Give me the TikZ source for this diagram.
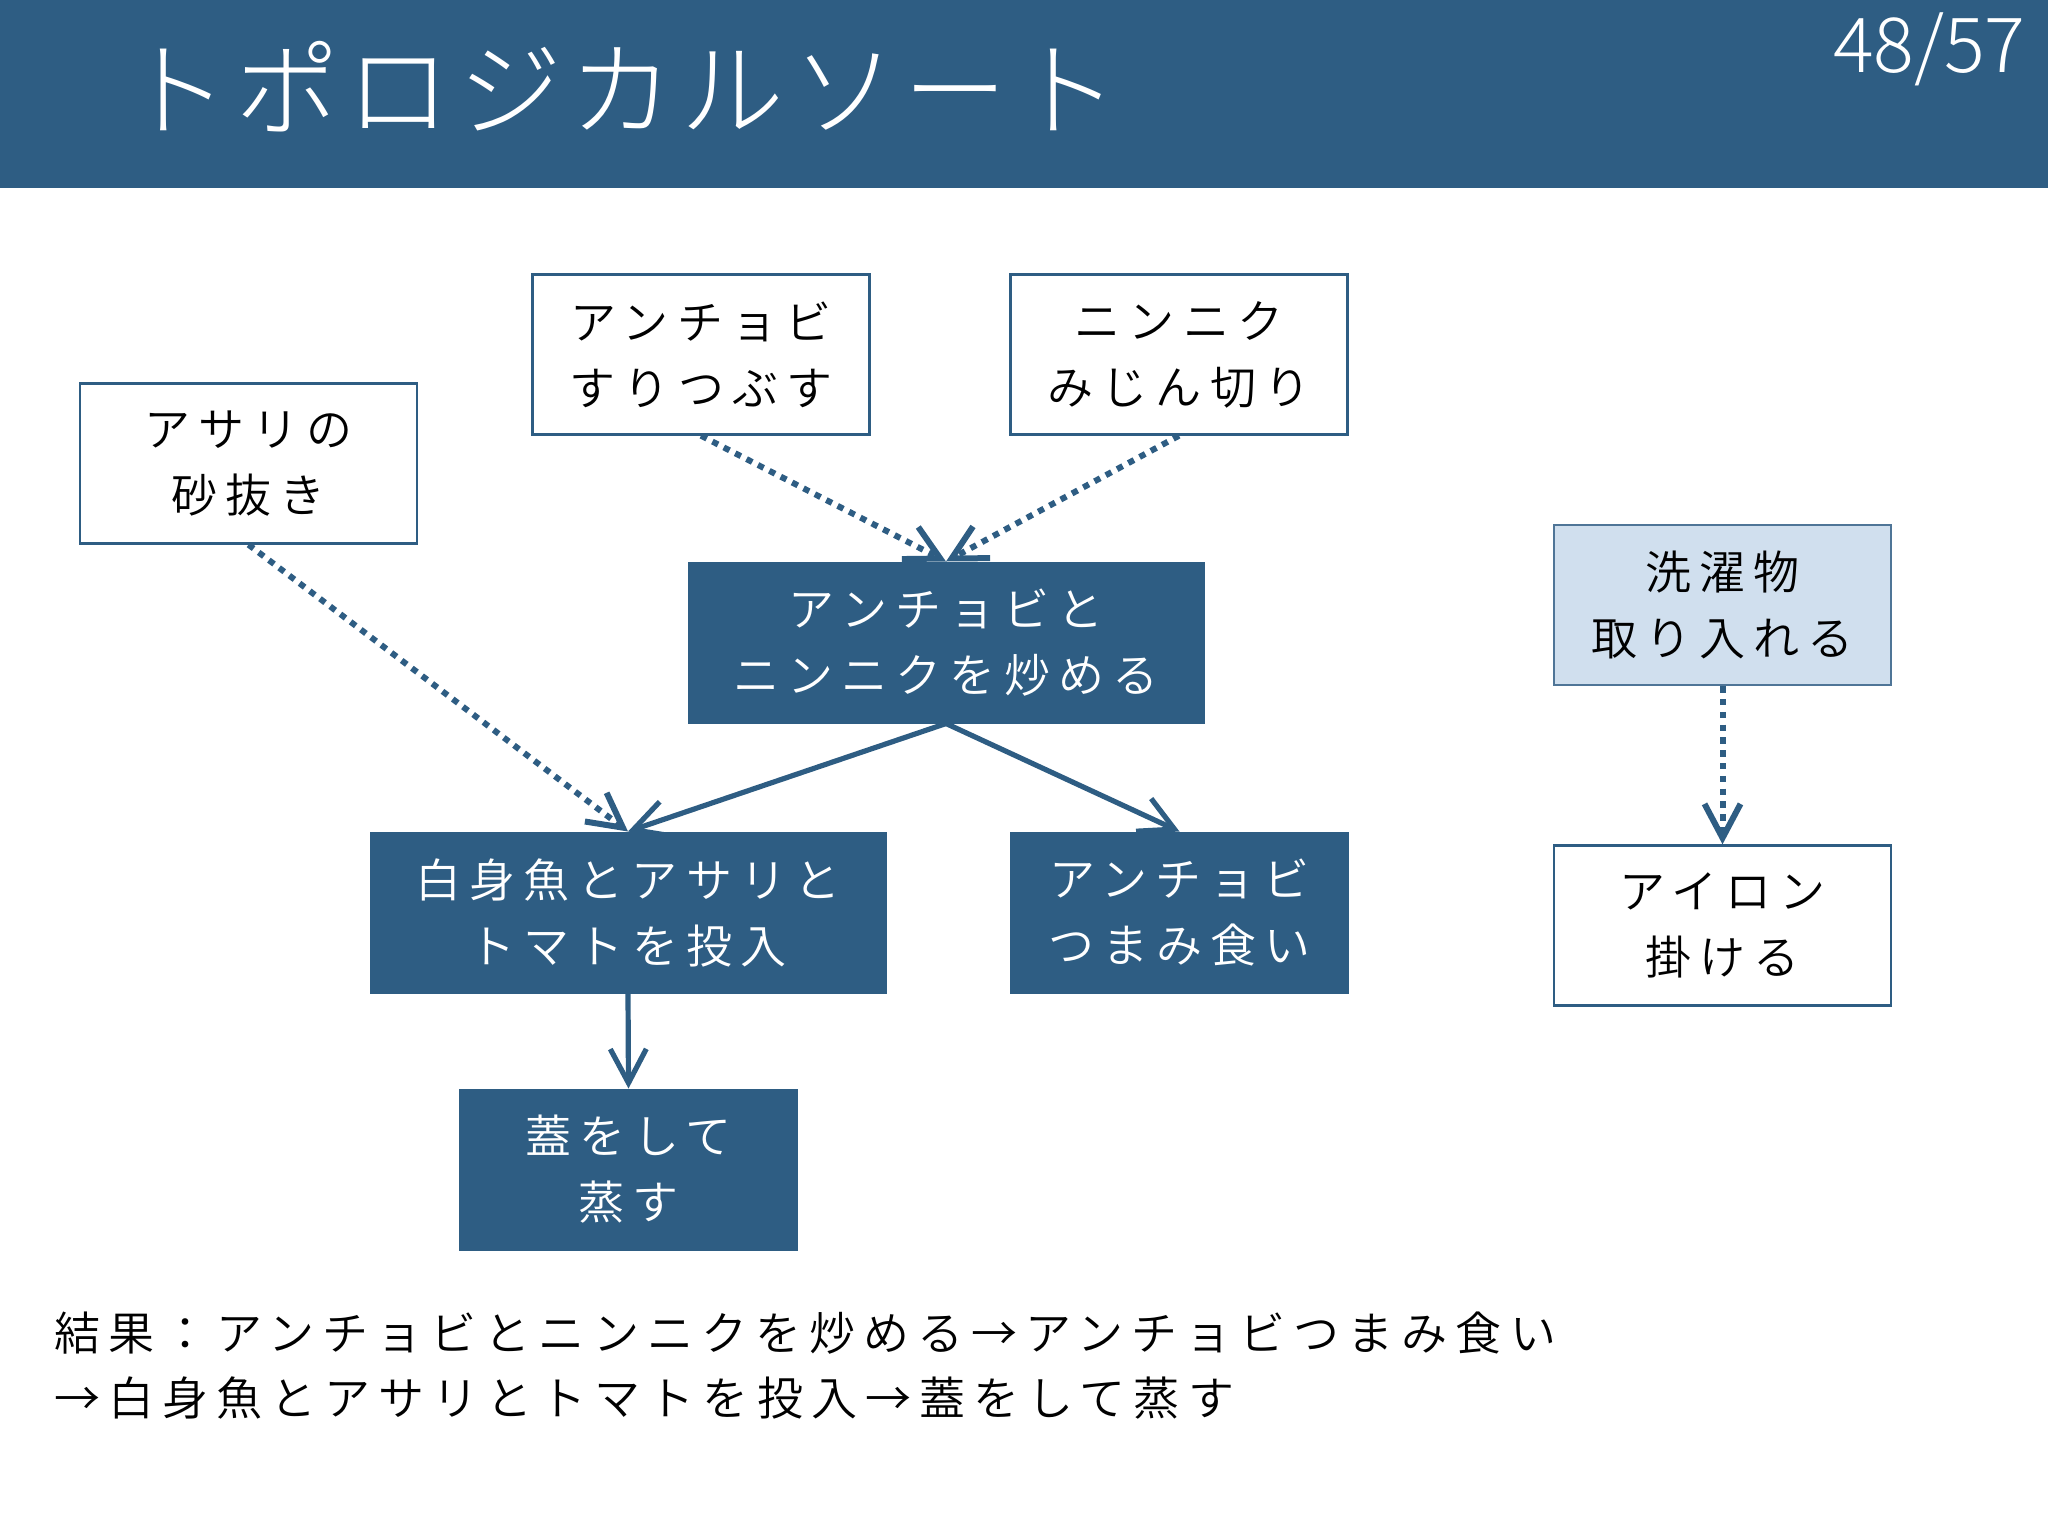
\documentclass[tikz,border=0pt]{standalone}
\usepackage{fontspec}
\setmainfont{Noto Sans CJK JP}
\newfontfamily\jpfont[LetterSpace=17.5]{Noto Sans CJK JP DemiLight}
\newfontfamily\titlefont[LetterSpace=7]{Noto Sans CJK JP Light}
\newfontfamily\numfont{Noto Sans CJK JP Light}
\usetikzlibrary{arrows.meta}
\definecolor{navy}{HTML}{2E5D83}
\definecolor{lightblue}{HTML}{D0DFEE}
\definecolor{boxedge}{HTML}{4F7597}
\tikzset{
  box/.style={rectangle, inner sep=0pt, minimum height=80pt, align=center,
    font=\jpfont\fontsize{23pt}{33pt}\selectfont},
  plainbox/.style={box, draw=navy, line width=1.2pt, fill=white, text=black},
  darkbox/.style={box, fill=navy, draw=navy, line width=1pt, text=white},
  lightbox/.style={box, fill=lightblue, draw=boxedge, line width=1.2pt, text=black},
  narrow/.style={minimum width=168.5pt},
  wide/.style={minimum width=257.5pt},
  conn/.style={draw=navy, line width=2.6pt, -{Straight Barb[length=17pt,width=18pt]}},
  dotconn/.style={conn, line width=3pt, dash pattern=on 3.2pt off 3.2pt},
}
\begin{document}
\begin{tikzpicture}[x=0.5pt,y=-0.5pt]
\useasboundingbox (0,0) rectangle (2048,1536);
\fill[navy] (0,0) rectangle (2048,188);
\node[anchor=base west, text=white, inner sep=0pt,
  font=\titlefont\fontsize{52pt}{60pt}\selectfont] (title) at (124,128) {トポロジカルソート};
\node[anchor=base east, text=white, inner sep=0pt,
  font=\numfont\fontsize{38pt}{42pt}\selectfont] (page) at (2026,73) {48/57};

\node[plainbox, narrow] (b1) at (248.5,463.5) {アサリの\\砂抜き};
\node[plainbox, narrow] (b2) at (701,354.5) {アンチョビ\\すりつぶす};
\node[plainbox, narrow] (b3) at (1179,354.5) {ニンニク\\みじん切り};
\node[darkbox, wide] (b4) at (946,642.5) {アンチョビと\\ニンニクを炒める};
\node[darkbox, wide] (b5) at (628,912.5) {白身魚とアサリと\\トマトを投入};
\node[darkbox, narrow] (b6) at (1179.5,912.5) {アンチョビ\\つまみ食い};
\node[darkbox, narrow] (b7) at (628.5,1169.5) {蓋をして\\蒸す};
\node[lightbox, narrow] (b8) at (1722.5,605) {洗濯物\\取り入れる};
\node[plainbox, narrow] (b9) at (1722.5,925.5) {アイロン\\掛ける};

\draw[dotconn] (b2.south) -- (b4.north);
\draw[dotconn] (b3.south) -- (b4.north);
\draw[dotconn] (b1.south) -- (b5.north);
\draw[conn] (b4.south) -- (b5.north);
\draw[conn] (b4.south) -- (b6.north);
\draw[conn] (b5.south) -- (b7.north);
\draw[dotconn] (b8.south) -- (b9.north);

\node[anchor=base west, inner sep=0pt, font=\jpfont\fontsize{23pt}{33pt}\selectfont]
  (res1) at (54,1350) {結果：アンチョビとニンニクを炒める→アンチョビつまみ食い};
\node[anchor=base west, inner sep=0pt, font=\jpfont\fontsize{23pt}{33pt}\selectfont]
  (res2) at (54,1415) {→白身魚とアサリとトマトを投入→蓋をして蒸す};
\end{tikzpicture}
\end{document}
